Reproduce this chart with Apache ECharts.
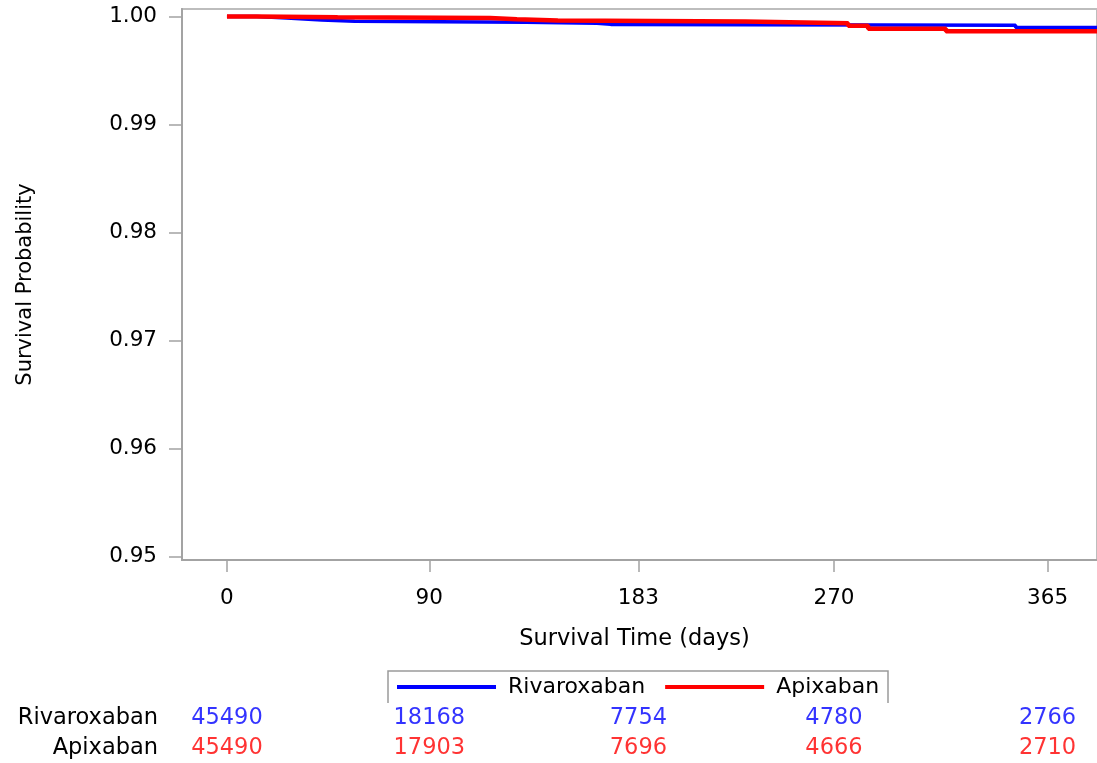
<!DOCTYPE html>
<html>
<head>
<meta charset="utf-8">
<script src="https://cdn.jsdelivr.net/npm/echarts@6/dist/echarts.min.js"></script>
<style>
  html, body { margin: 0; padding: 0; background: #ffffff; }
  #chart { width: 1097px; height: 763px; }
</style>
</head>
<body>
<div id="chart"></div>
<script>
// Treatment groups and axis ticks
const groups = ['Rivaroxaban', 'Apixaban'];
const timeTicks = [0, 90, 183, 270, 365];
const probTicks = [0.95, 0.96, 0.97, 0.98, 0.99, 1.00];

// Kaplan-Meier step points: [day, survival probability]
const rivaroxabanSteps = [
  [0, 1.0], [13.3, 0.99986], [26.6, 0.99968], [42.1, 0.99955], [56.8, 0.99947],
  [133, 0.99938], [164.5, 0.99927], [170.7, 0.99920], [350.8, 0.99898], [392, 0.99898]
];
const apixabanSteps = [
  [0, 1.0], [13.3, 0.99993], [49.2, 0.99986], [117, 0.99974], [129, 0.99963],
  [147.2, 0.99954], [230.6, 0.99937], [276.3, 0.99915], [285.2, 0.99887],
  [319.8, 0.99864], [392, 0.99864]
];

// Number at risk at each time tick
const rivaroxabanAtRisk = [45490, 18168, 7754, 4780, 2766];
const apixabanAtRisk = [45490, 17903, 7696, 4666, 2710];

const BLUE = '#0000ff';
const RED = '#ff0000';
const FONT = 'DejaVu Sans';
const AXIS_GREY = '#a3a3a3';
const TEXT = '#000000';

const X_MIN = -20, X_MAX = 387;
const GRID_LEFT = 182, GRID_WIDTH = 918;

function riskPoints(counts, group) {
  return counts.map((n, i) => [timeTicks[i], group, n]);
}

const chart = echarts.init(document.getElementById('chart'), null, { renderer: 'canvas' });

chart.setOption({
  animation: false,
  backgroundColor: '#ffffff',
  textStyle: { fontFamily: FONT },
  grid: [
    {
      left: GRID_LEFT, top: 9, width: GRID_WIDTH, height: 551,
      show: true, borderColor: '#bdbdbd', borderWidth: 2, backgroundColor: 'transparent'
    },
    { left: GRID_LEFT, top: 703, width: GRID_WIDTH, height: 60 }
  ],
  xAxis: [
    {
      type: 'value', gridIndex: 0, min: X_MIN, max: X_MAX,
      name: 'Survival Time (days)', nameLocation: 'middle', nameGap: 68,
      nameTextStyle: { fontSize: 22.5, color: TEXT, fontFamily: FONT, padding: [0, 10, 0, 0] },
      splitLine: { show: false },
      axisLine: { show: true, onZero: false, lineStyle: { color: AXIS_GREY, width: 2 } },
      axisTick: { show: true, inside: false, customValues: timeTicks, length: 12, lineStyle: { color: AXIS_GREY, width: 1.5 } },
      axisLabel: {
        customValues: timeTicks, margin: 27, fontSize: 21.5, color: TEXT, fontFamily: FONT,
        formatter: v => String(v)
      }
    },
    {
      type: 'value', gridIndex: 1, min: X_MIN, max: X_MAX, show: false
    }
  ],
  yAxis: [
    {
      type: 'value', gridIndex: 0, min: 0.949676, max: 1.000694,
      name: 'Survival Probability', nameLocation: 'middle', nameGap: 146, nameRotate: 90,
      nameTextStyle: { fontSize: 21, color: TEXT, fontFamily: FONT },
      splitLine: { show: false },
      axisLine: { show: true, onZero: false, lineStyle: { color: AXIS_GREY, width: 2 } },
      axisTick: { show: true, inside: false, customValues: probTicks, length: 13, lineStyle: { color: AXIS_GREY, width: 1.5 } },
      axisLabel: {
        customValues: probTicks, margin: 25, fontSize: 21.5, color: TEXT, fontFamily: FONT,
        formatter: v => v.toFixed(2)
      }
    },
    {
      type: 'category', gridIndex: 1, data: groups, inverse: true,
      axisLine: { show: false }, axisTick: { show: false }, splitLine: { show: false },
      axisLabel: { margin: 24, fontSize: 22.5, color: TEXT, fontFamily: FONT }
    }
  ],
  legend: {
    data: [
      { name: 'Rivaroxaban', icon: 'rect' },
      { name: 'Apixaban', icon: 'rect' }
    ],
    left: 397, top: 674, padding: 0,
    itemWidth: 99, itemHeight: 4, itemGap: 20,
    textStyle: { fontSize: 22, color: TEXT, fontFamily: FONT, lineHeight: 26, padding: [0, 0, 0, 7] }
  },
  graphic: [
    {
      type: 'polyline',
      shape: { points: [[388, 703], [388, 671], [888, 671], [888, 703]] },
      style: { stroke: '#9a9a9a', lineWidth: 1.5, fill: null },
      silent: true
    }
  ],
  series: [
    {
      name: 'Rivaroxaban', type: 'line', step: 'end', xAxisIndex: 0, yAxisIndex: 0,
      data: rivaroxabanSteps, showSymbol: false, symbol: 'none',
      lineStyle: { color: BLUE, width: 3.5, cap: 'butt' },
      itemStyle: { color: BLUE }
    },
    {
      name: 'Apixaban', type: 'line', step: 'end', xAxisIndex: 0, yAxisIndex: 0,
      data: apixabanSteps, showSymbol: false, symbol: 'none',
      lineStyle: { color: RED, width: 4.5, cap: 'butt' },
      itemStyle: { color: RED }
    },
    {
      name: 'Rivaroxaban at risk', type: 'scatter', xAxisIndex: 1, yAxisIndex: 1,
      data: riskPoints(rivaroxabanAtRisk, groups[0]), symbolSize: 0,
      label: {
        show: true, position: 'inside', fontSize: 22.5, color: BLUE, fontFamily: FONT,
        formatter: p => String(p.value[2])
      }
    },
    {
      name: 'Apixaban at risk', type: 'scatter', xAxisIndex: 1, yAxisIndex: 1,
      data: riskPoints(apixabanAtRisk, groups[1]), symbolSize: 0,
      label: {
        show: true, position: 'inside', fontSize: 22.5, color: RED, fontFamily: FONT,
        formatter: p => String(p.value[2])
      }
    }
  ]
});
</script>
</body>
</html>
